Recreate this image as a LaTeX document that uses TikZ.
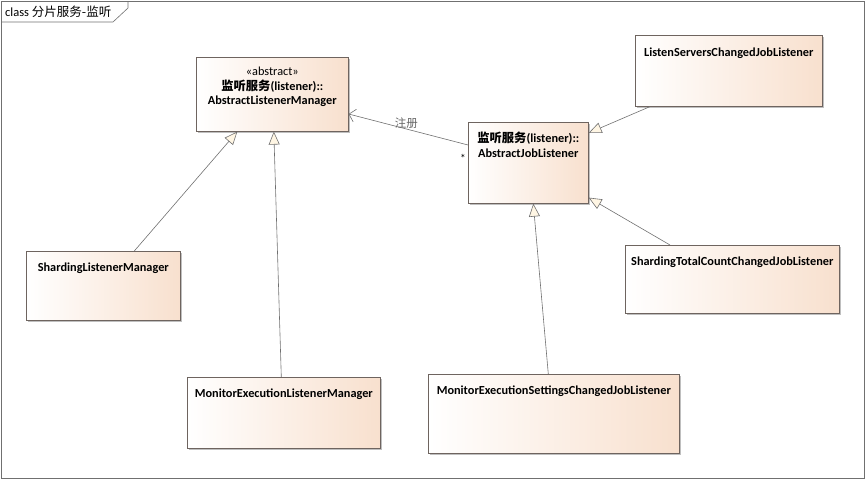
\documentclass[tikz,border=0pt]{standalone}
\usepackage{fontspec}
\setmainfont{Carlito}
\newfontfamily\cjk{Noto Sans CJK SC}
\usetikzlibrary{arrows.meta, positioning, shadows, calc}
\definecolor{umlline}{RGB}{112, 112, 112}
\definecolor{umlborder}{RGB}{110, 100, 95}
\definecolor{umlpeach}{RGB}{248, 224, 206}
\definecolor{umltri}{RGB}{255, 246, 228}
\definecolor{umlgray}{RGB}{100, 100, 100}

\begin{document}
\begin{tikzpicture}[
  x=1pt, y=-1pt,
  cls/.style={draw=umlborder, line width=0.6pt, anchor=north west,
              left color=white, right color=umlpeach, inner sep=0pt,
              drop shadow={shadow xshift=1.5pt, shadow yshift=-1.5pt,
                           fill=black, opacity=0.25}},
  clsname/.style={anchor=north, align=center, inner sep=0pt,
                  font=\bfseries\fontsize{12.3}{14.5}\selectfont},
  gen/.style={draw=umlline, line width=0.6pt,
              -{Triangle[length=13pt, width=11pt, fill=umltri]}},
  assoc/.style={draw=umlline, line width=0.6pt,
                -{Straight Barb[length=6pt, width=13pt]}},
  lb/.style={font=\fontsize{11.5}{12}\selectfont, color=umlgray, inner sep=1pt}
]
\useasboundingbox (0,0) rectangle (865,479);

% ── Frame ────────────────────────────────────────────────────────────────────
\draw[umlline, line width=0.6pt] (1,1) rectangle (864,478);
\draw[umlline, line width=0.6pt] (1,22) -- (113,22) -- (128,8) -- (128,1);
\node[anchor=west, inner sep=0pt, font=\fontsize{12.5}{13}\selectfont] (title)
  at (5,12) {class {\cjk 分片服务-监听}};

% ── Classes ──────────────────────────────────────────────────────────────────
\node[cls, minimum width=152pt, minimum height=74pt] (alm) at (196,57) {};
\node[clsname, below=10pt of alm.north] (almtext)
  {{\mdseries «abstract»}\\{\cjk 监听服务}(listener)::\\AbstractListenerManager};

\node[cls, minimum width=120pt, minimum height=81pt] (ajl) at (468,122) {};
\node[clsname, below=10pt of ajl.north] (ajltext)
  {{\cjk 监听服务}(listener)::\\AbstractJobListener};

\node[cls, minimum width=187pt, minimum height=71pt] (lscjl) at (635,35) {};
\node[clsname, below=13pt of lscjl.north] (lscjltext)
  {ListenServersChangedJobListener};

\node[cls, minimum width=154pt, minimum height=69pt] (slm) at (26,251) {};
\node[clsname, below=12pt of slm.north] (slmtext)
  {ShardingListenerManager};

\node[cls, minimum width=214pt, minimum height=68pt] (stccjl) at (625,245) {};
\node[clsname, below=12pt of stccjl.north] (stccjltext)
  {ShardingTotalCountChangedJobListener};

\node[cls, minimum width=193pt, minimum height=71pt] (meml) at (187,377) {};
\node[clsname, below=12pt of meml.north] (memltext)
  {MonitorExecutionListenerManager};

\node[cls, minimum width=251pt, minimum height=79pt] (mescjl) at (428,374) {};
\node[clsname, below=12pt of mescjl.north] (mescjltext)
  {MonitorExecutionSettingsChangedJobListener};

% ── Generalizations ──────────────────────────────────────────────────────────
\draw[gen] ([xshift=31pt]slm.north) -- ([xshift=-35pt]alm.south);
\draw[gen] ([xshift=-2.5pt]meml.north) -- ([xshift=1.5pt]alm.south);
\draw[gen] ([xshift=15pt]lscjl.south west) -- ([yshift=-11pt]ajl.north east);
\draw[gen] ([xshift=45pt]stccjl.north west) -- ([yshift=6pt]ajl.south east);
\draw[gen] ([xshift=-5.5pt]mescjl.north) -- ([xshift=5pt]ajl.south);

% ── Association ──────────────────────────────────────────────────────────────
\draw[assoc] ([yshift=-23pt]ajl.north west)
  -- node[pos=0.5, above, lb, xshift=-2pt] (reg) {\cjk 注册}
  ([yshift=-57pt]alm.north east);
\node[lb, left=1pt of ajl.north west, yshift=-36pt, color=black] (mult) {*};

\end{tikzpicture}
\end{document}
